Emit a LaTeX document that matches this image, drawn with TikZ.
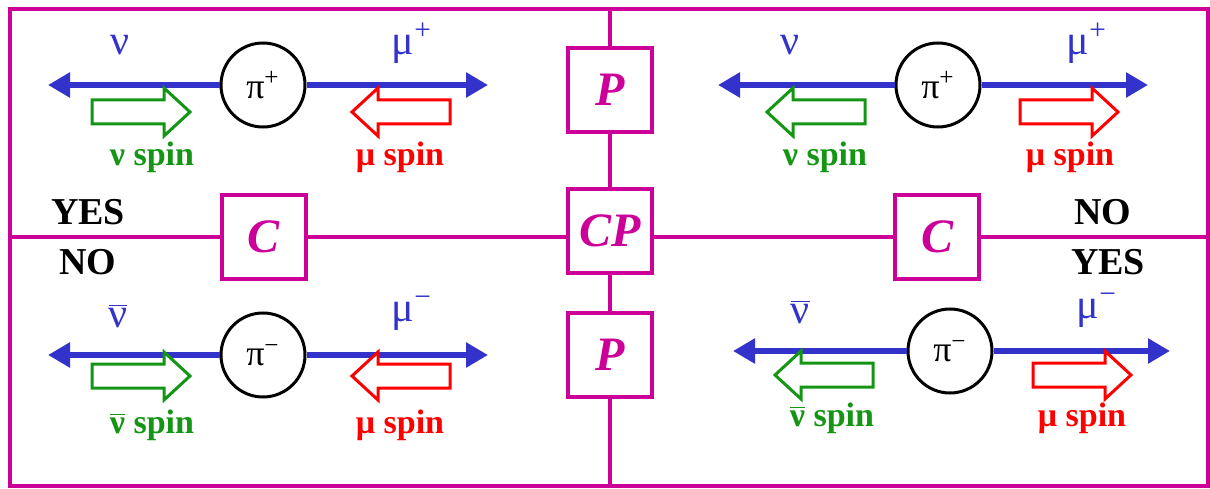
\documentclass[tikz,border=0pt]{standalone}
\usepackage{fontspec}
\setmainfont{Liberation Serif}
\usetikzlibrary{positioning, arrows.meta}

\definecolor{cpmag}{RGB}{204,0,153}
\definecolor{beamblue}{RGB}{51,51,204}
\definecolor{nugreen}{RGB}{20,150,20}
\definecolor{mured}{RGB}{255,0,0}

\newcommand{\nubar}{$\overline{\mbox{ν}}$}

\begin{document}
\begin{tikzpicture}[
  x=0.5pt, y=0.5pt,
  frame/.style={draw=cpmag, line width=2pt},
  opbox/.style={draw=cpmag, line width=2pt, fill=white, minimum size=42pt,
    inner sep=0pt, text=cpmag, font=\fontsize{24}{24}\selectfont\bfseries\itshape},
  pion/.style={draw, circle, line width=1.5pt, minimum size=42pt, inner sep=0pt,
    font=\fontsize{18}{18}\selectfont},
  beam/.style={-{Triangle[length=11pt,width=12pt]}, draw=beamblue, line width=3pt},
  plbl/.style={text=beamblue, font=\fontsize{21}{21}\selectfont},
  spinlbl/.style={font=\fontsize{17}{17}\selectfont\bfseries},
  verdict/.style={font=\fontsize{19}{19}\selectfont\bfseries},
  spinarrow/.pic={
    \draw[pic actions, line width=1.5pt, fill=white, line join=miter]
      (-49,-12) -- (23,-12) -- (23,-24) -- (49,0) -- (23,24) -- (23,12)
      -- (-49,12) -- cycle;
  },
]
  \useasboundingbox (0,0) rectangle (1210,488);

  % C, P and CP operators
  \node[opbox] (Ptop) at (610,398) {P};
  \node[opbox] (CP) at (610,257) {CP};
  \node[opbox] (Pbot) at (610,133) {P};
  \node[opbox] (Cleft) at (264,251) {C};
  \node[opbox] (Cright) at (937,251) {C};

  \coordinate (ftop) at (610,479);
  \coordinate (fbot) at (610,2);
  \coordinate (fleft) at (10,251);
  \coordinate (fright) at (1208,251);

  \draw[frame] (10,2) rectangle (1208,479);
  \draw[frame] (ftop) -- (Ptop);
  \draw[frame] (Ptop) -- (CP);
  \draw[frame] (CP) -- (Pbot);
  \draw[frame] (Pbot) -- (fbot);
  \draw[frame] (fleft) -- (Cleft);
  \draw[frame] (Cleft.east) -- (Cleft.east -| CP.west);
  \draw[frame] (Cright.west -| CP.east) -- (Cright.west);
  \draw[frame] (Cright) -- (fright);

  % top left: pi+
  \node[pion] (piTL) at (263,403) {π\textsuperscript{+}};
  \coordinate (nuTL) at (48,403);
  \coordinate (muTL) at (488,403);
  \draw[beam] (piTL) -- (nuTL);
  \draw[beam] (piTL) -- (muTL);
  \node[plbl] (nuTLl) at (120,443) {ν};
  \node[plbl] (muTLl) at (412,445) {μ\textsuperscript{+}};
  \pic[draw=nugreen] at (141,376) {spinarrow};
  \pic[draw=mured, xscale=-1] at (401,376) {spinarrow};
  \node[spinlbl, text=nugreen] (nsTL) at (152,331) {ν spin};
  \node[spinlbl, text=mured] (msTL) at (400,331) {μ spin};

  % top right: pi+
  \node[pion] (piTR) at (938,403) {π\textsuperscript{+}};
  \coordinate (nuTR) at (718,403);
  \coordinate (muTR) at (1148,403);
  \draw[beam] (piTR) -- (nuTR);
  \draw[beam] (piTR) -- (muTR);
  \node[plbl] (nuTRl) at (790,443) {ν};
  \node[plbl] (muTRl) at (1087,445) {μ\textsuperscript{+}};
  \pic[draw=nugreen, xscale=-1] at (816,376) {spinarrow};
  \pic[draw=mured] at (1069,376) {spinarrow};
  \node[spinlbl, text=nugreen] (nsTR) at (825,331) {ν spin};
  \node[spinlbl, text=mured] (msTR) at (1070,331) {μ spin};

  % bottom left: pi-
  \node[pion] (piBL) at (263,133) {π\textsuperscript{−}};
  \coordinate (nuBL) at (48,133);
  \coordinate (muBL) at (488,133);
  \draw[beam] (piBL) -- (nuBL);
  \draw[beam] (piBL) -- (muBL);
  \node[plbl] (nuBLl) at (118,172) {\nubar};
  \node[plbl] (muBLl) at (412,175) {μ\textsuperscript{−}};
  \pic[draw=nugreen] at (141,112) {spinarrow};
  \pic[draw=mured, xscale=-1] at (401,112) {spinarrow};
  \node[spinlbl, text=nugreen] (nsBL) at (152,63) {\nubar{} spin};
  \node[spinlbl, text=mured] (msBL) at (400,63) {μ spin};

  % bottom right: pi-
  \node[pion] (piBR) at (950,137) {π\textsuperscript{−}};
  \coordinate (nuBR) at (733,137);
  \coordinate (muBR) at (1170,137);
  \draw[beam] (piBR) -- (nuBR);
  \draw[beam] (piBR) -- (muBR);
  \node[plbl] (nuBRl) at (800,176) {\nubar};
  \node[plbl] (muBRl) at (1097,178) {μ\textsuperscript{−}};
  \pic[draw=nugreen, xscale=-1] at (824,113) {spinarrow};
  \pic[draw=mured] at (1082,113) {spinarrow};
  \node[spinlbl, text=nugreen] (nsBR) at (832,70) {\nubar{} spin};
  \node[spinlbl, text=mured] (msBR) at (1082,70) {μ spin};

  % allowed or not
  \node[verdict] (yesL) at (88,276) {YES};
  \node[verdict] (noL) at (88,226) {NO};
  \node[verdict] (noR) at (1103,276) {NO};
  \node[verdict] (yesR) at (1108,226) {YES};
\end{tikzpicture}
\end{document}
